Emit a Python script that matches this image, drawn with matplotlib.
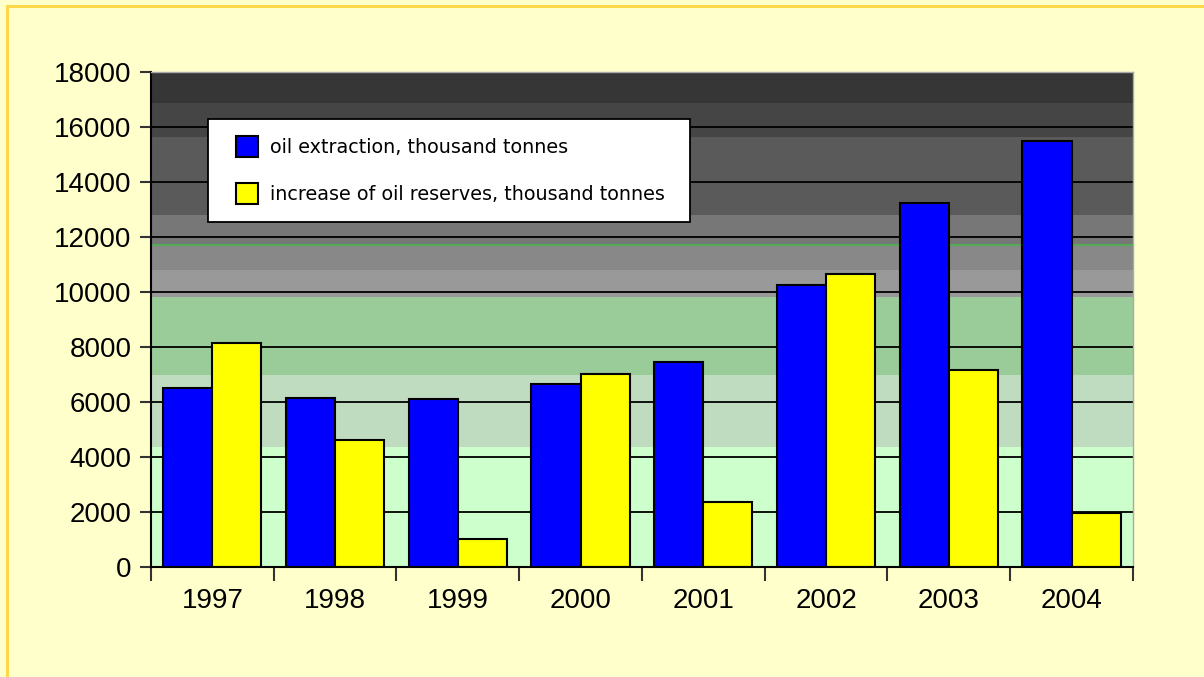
import numpy as np
import matplotlib
matplotlib.use('Agg')
import matplotlib.pyplot as plt
from matplotlib.patches import Rectangle

years = ['1997', '1998', '1999', '2000', '2001', '2002', '2003', '2004']
extraction = [6500, 6150, 6100, 6650, 7450, 10250, 13250, 15500]
reserves = [8150, 4600, 1000, 7000, 2350, 10650, 7150, 1950]
labels = ['oil extraction, thousand tonnes', 'increase of oil reserves, thousand tonnes']

# background bands of the plot area (bottom -> top)
bands = [(0, 4360, '#ccffcc'), (4360, 6980, '#c0dcc0'), (6980, 9820, '#99cc99'),
         (9820, 10800, '#999999'), (10800, 11710, '#888888'), (11710, 12800, '#777777'),
         (12800, 15640, '#5a5a5a'), (15640, 16870, '#454545'), (16870, 18000, '#363636')]

fig = plt.figure(figsize=(12.04, 6.77), dpi=100)
fig.patch.set_facecolor('#ffffcc')
# yellow frame, only top and left edges fall inside the image
fig.patches.append(Rectangle((6.5 / 1204, -0.1), 1.2, 1.1 - 6.5 / 677, transform=fig.transFigure,
                             facecolor='none', edgecolor='#ffd84a', linewidth=2.2))

ax = fig.add_axes([0.1254, 0.1625, 0.8156, 0.7312])
ax.set_facecolor('#ffffcc')

x = np.arange(len(years))
for lo, hi, c in bands:
    ax.axhspan(lo, hi, color=c, zorder=0, lw=0)
ax.axhline(11710, color='#55aa55', lw=1.5, zorder=0.5)

for y in range(2000, 18001, 2000):
    ax.axhline(y, color='black', lw=1.3, zorder=1)

w = 0.4
b1 = ax.bar(x - w / 2, extraction, w, color='#0000ff', edgecolor='black', lw=1.5, zorder=2)
b2 = ax.bar(x + w / 2, reserves, w, color='#ffff00', edgecolor='black', lw=1.5, zorder=2)

font = 'Liberation Sans'
ax.set_xlim(-0.5, len(years) - 0.5)
ax.set_ylim(0, 18000)
ax.set_yticks(range(0, 18001, 2000))
ax.set_yticklabels([str(v) for v in range(0, 18001, 2000)], fontsize=20, family=font)
ax.tick_params(axis='y', length=8, width=1.5, pad=6, color='#333333')

ax.set_xticks(list(x - 0.5) + [len(years) - 0.5])
ax.set_xticklabels([])
ax.set_xticks(x, minor=True)
ax.set_xticklabels(years, minor=True, fontsize=20, family=font)
ax.tick_params(axis='x', which='major', length=10, width=1.5, color='#333333')
ax.tick_params(axis='x', which='minor', length=0, pad=15)

for s in ['top', 'right']:
    ax.spines[s].set_color('#aaaaaa')
    ax.spines[s].set_linewidth(1)
ax.spines['left'].set_linewidth(1.5)
ax.spines['bottom'].set_linewidth(1.5)

# legend box drawn by hand, entries placed inside it
ax.add_patch(Rectangle((0.058, 0.697), 0.491, 0.208, transform=ax.transAxes, facecolor='white',
                       edgecolor='black', lw=1.3, zorder=4))
leg = ax.legend([b1, b2], labels, loc='upper left', bbox_to_anchor=(0.0866, 0.87), frameon=False,
                prop={'family': 'DejaVu Sans', 'size': 13.8}, handlelength=1.15, handleheight=1.3,
                handletextpad=0.6, borderpad=0, labelspacing=1.35, borderaxespad=0)
leg.set_zorder(5)

fig.savefig('out.png', dpi=100, facecolor=fig.get_facecolor())
